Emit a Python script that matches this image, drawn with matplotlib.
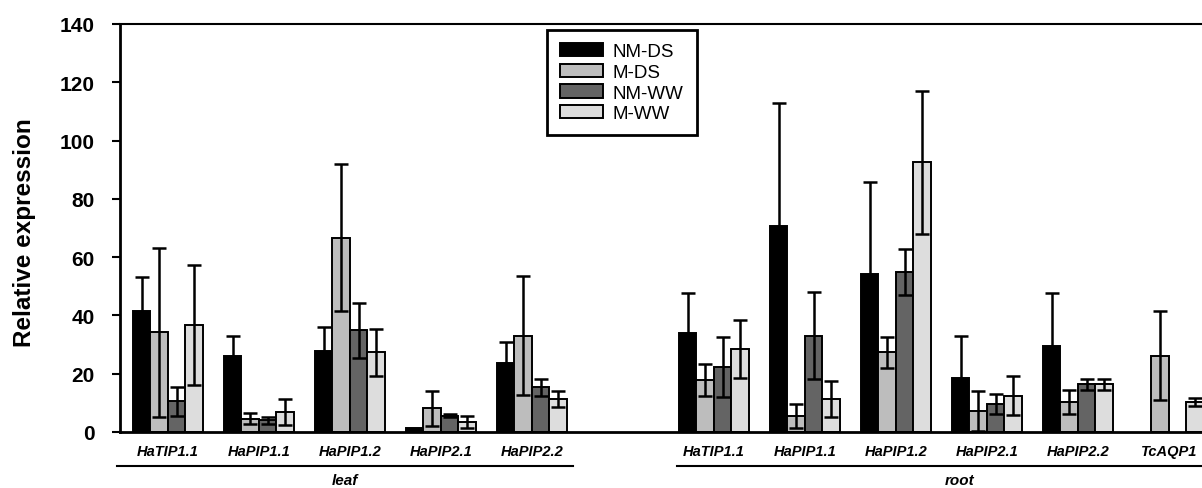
import numpy as np
import matplotlib
matplotlib.use("Agg")
import matplotlib.pyplot as plt
import matplotlib.transforms as mtransforms

plt.rcParams['font.family'] = ['Liberation Sans', 'DejaVu Sans']

# gene labels, leaf first then root
genes_leaf = ["HaTIP1.1", "HaPIP1.1", "HaPIP1.2", "HaPIP2.1", "HaPIP2.2"]
genes_root = ["HaTIP1.1", "HaPIP1.1", "HaPIP1.2", "HaPIP2.1", "HaPIP2.2", "TcAQP1"]
treatments = ["NM-DS", "M-DS", "NM-WW", "M-WW"]
colors = ["#000000", "#bdbdbd", "#646464", "#dddddd"]

# relative expression (mean) per treatment, leaf genes then root genes
nm_ds = [41.6, 26.0, 27.7, 1.5, 23.6, 33.9, 70.6, 54.2, 18.5, 29.6, np.nan]
m_ds = [34.2, 4.5, 66.6, 8.1, 33.1, 18.0, 5.5, 27.3, 7.1, 10.3, 26.2]
nm_ww = [10.5, 4.0, 34.9, 5.6, 15.3, 22.2, 33.1, 55.0, 9.6, 16.3, np.nan]
m_ww = [36.8, 6.9, 27.3, 3.5, 11.3, 28.4, 11.3, 92.5, 12.5, 16.3, 10.2]

# standard errors
nm_ds_err = [11.7, 6.9, 8.2, np.nan, 7.4, 13.7, 42.3, 31.7, 14.5, 18.0, np.nan]
m_ds_err = [29.0, 1.9, 25.2, 6.0, 20.3, 5.5, 4.0, 5.2, 6.9, 4.1, 15.3]
nm_ww_err = [5.0, 1.3, 9.5, 0.5, 2.9, 10.3, 14.8, 7.9, 3.5, 1.9, np.nan]
m_ww_err = [20.6, 4.4, 8.2, 2.0, 2.6, 10.0, 6.3, 24.4, 6.6, 2.0, 1.4]

means = [nm_ds, m_ds, nm_ww, m_ww]
errs = [nm_ds_err, m_ds_err, nm_ww_err, m_ww_err]

# group positions: leaf at 0..4, one empty slot, root at 6..11
pos = np.array(list(range(5)) + list(range(6, 12)), dtype=float)
labels = genes_leaf + genes_root
w = 0.192

fig = plt.figure(figsize=(12.02, 4.89), dpi=100)
ax = fig.add_axes([120 / 1202, 56 / 489, 1 - 120 / 1202, 408 / 489])

for k in range(4):
    x = pos + (k - 1.5) * w
    ax.bar(x, means[k], width=w, color=colors[k], edgecolor='black',
           linewidth=1.4, label=treatments[k], zorder=2)
    ax.errorbar(x, means[k], yerr=errs[k], fmt='none', ecolor='black',
                elinewidth=1.8, capsize=5, capthick=1.8, zorder=3)

ax.set_xlim(-0.527, 11.363)
ax.set_ylim(0, 140)
ax.set_yticks(range(0, 141, 20))
ax.tick_params(axis='y', direction='out', length=6, width=1.5, pad=12,
               labelsize=15)
for t in ax.get_yticklabels():
    t.set_fontweight('bold')
ax.set_xticks(pos)
ax.set_xticklabels(labels, fontsize=10.5, fontweight='bold', fontstyle='italic')
ax.tick_params(axis='x', length=0, pad=9)

ax.spines['right'].set_visible(False)
ax.spines['left'].set_linewidth(2)
ax.spines['bottom'].set_linewidth(2)
ax.spines['top'].set_linewidth(1.5)

ax.set_ylabel("Relative expression", fontsize=17.5, fontweight='bold')
ax.yaxis.set_label_coords(-84 / 1082, 0.49)

# tissue brackets below the gene names
trans = mtransforms.blended_transform_factory(ax.transData, ax.transAxes)
ax.plot([-0.56, 4.45], [-0.083, -0.083], color='black', lw=1.5,
        transform=trans, clip_on=False)
ax.plot([5.59, 11.5], [-0.083, -0.083], color='black', lw=1.5,
        transform=trans, clip_on=False)
ax.text(1.95, -0.117, "leaf", transform=trans, ha='center', va='center',
        fontsize=11, fontweight='bold', fontstyle='italic')
ax.text(8.7, -0.117, "root", transform=trans, ha='center', va='center',
        fontsize=11, fontweight='bold', fontstyle='italic')

leg = ax.legend(loc='upper left', bbox_to_anchor=(547 / 1202, 1 - 31 / 489),
                bbox_transform=fig.transFigure, fontsize=13.5,
                handlelength=2.3, handleheight=0.72, labelspacing=0.18,
                handletextpad=0.5, borderpad=0.7, borderaxespad=0,
                fancybox=False, framealpha=1)
leg.get_frame().set_edgecolor('black')
leg.get_frame().set_linewidth(2)

fig.savefig("out.png", dpi=100)
